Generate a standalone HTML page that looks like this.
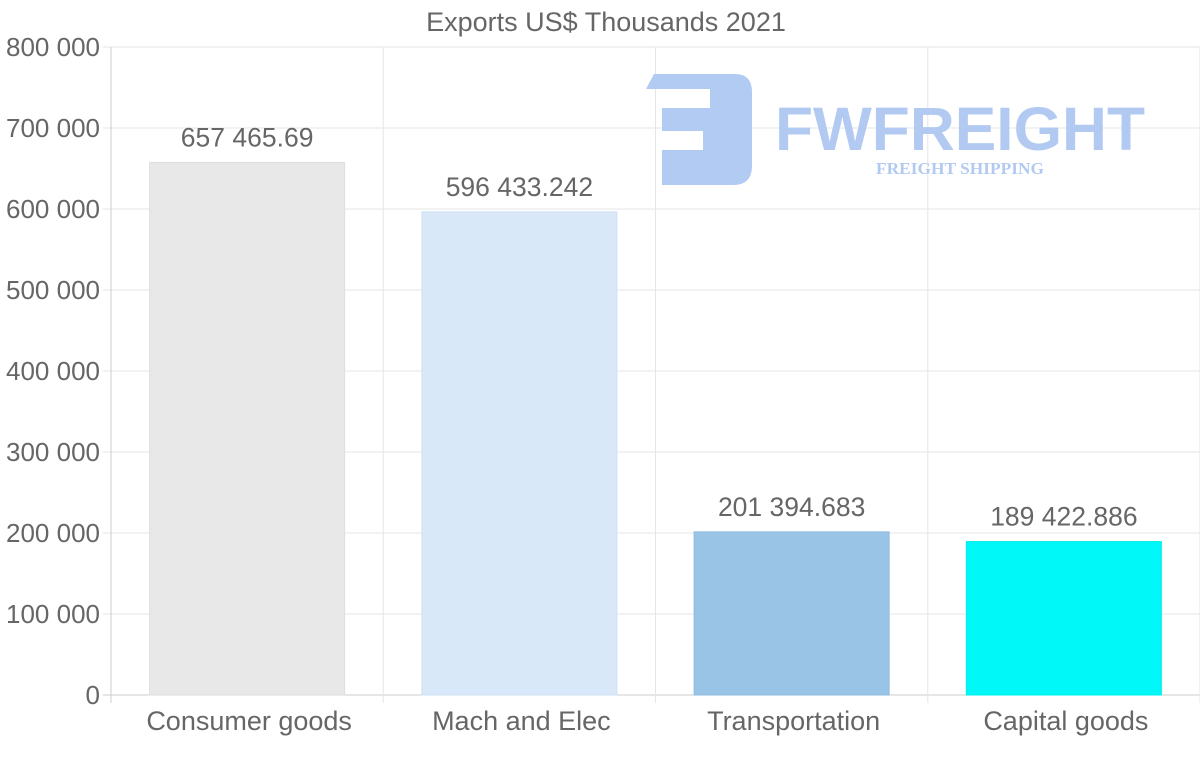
<!DOCTYPE html>
<html><head><meta charset="utf-8"><style>
html,body{margin:0;padding:0;background:#fff;}
svg{display:block;font-family:"Liberation Sans",sans-serif;}
</style></head><body>
<svg id="chart" width="1200" height="763">
<text x="606" y="31" text-anchor="middle" font-size="27" fill="#666">Exports US$ Thousands 2021</text>
<g id="grid"></g>
<g id="logo" opacity="0.95">
<path d="M646 89 L654 74 L735 74 Q752 74 752 92 L752 166 Q752 185 733 185 L662 185 L662 150 L703 150 L703 131 L662 131 L662 108 L710 108 L710 89 Z" fill="#aec8f2"/>
<text x="775" y="150" font-size="61" font-weight="bold" fill="#aec8f2" textLength="370" lengthAdjust="spacingAndGlyphs">FWFREIGHT</text>
<text x="960" y="174" text-anchor="middle" font-family="'Liberation Serif',serif" font-weight="bold" font-size="17" fill="#aec8f2" textLength="168" lengthAdjust="spacingAndGlyphs">FREIGHT SHIPPING</text>
</g>
<g id="bars"></g>
<g id="axes"></g>
</svg>
<script>
const categories = ["Consumer goods","Mach and Elec","Transportation","Capital goods"];
const values = [657465.69, 596433.242, 201394.683, 189422.886];
const valueLabels = ["657 465.69","596 433.242","201 394.683","189 422.886"];
const yTicks = [0,100000,200000,300000,400000,500000,600000,700000,800000];
const yTickLabels = ["0","100 000","200 000","300 000","400 000","500 000","600 000","700 000","800 000"];
const fills = ["#e8e8e8","#d8e8f8","#9ac4e6","#00f8f8"];
const strokes = ["#dedede","#cfe0f3","#8fbbe0","#00eeee"];

const NS="http://www.w3.org/2000/svg";
const L=111,R=1200,T=47,B=695,yMax=800000;
const y=v=>B-(v/yMax)*(B-T);
const bandW=(R-L)/categories.length;
const xC=i=>L+bandW*(i+0.5);
function mk(tag,attrs,parent,text){const e=document.createElementNS(NS,tag);for(const k in attrs)e.setAttribute(k,attrs[k]);if(text!==undefined)e.textContent=text;parent.appendChild(e);return e;}
const grid=document.getElementById('grid'),bars=document.getElementById('bars'),axes=document.getElementById('axes');
yTicks.forEach((t,i)=>{
  const ln=mk('line',{x1:L-8,x2:R,y1:y(t),y2:y(t),stroke:i===0?'#ccc':'#e6e6e6','stroke-width':1},grid);
  
  
  const tx=mk('text',{x:100,y:y(t)+9,'text-anchor':'end','font-size':26,fill:'#666'},axes,yTickLabels[i]);
  
  
});
for(let i=0;i<=categories.length;i++){
  const x=L+bandW*i;
  const ln=mk('line',{x1:x,x2:x,y1:T,y2:B+8,stroke:i===0?'#ccc':'#e6e6e6','stroke-width':1},grid);
  
  
}
const bw=195;
categories.forEach((c,i)=>{
  const r=mk('rect',{x:xC(i)-bw/2,y:y(values[i]),width:bw,height:B-y(values[i]),fill:fills[i],stroke:strokes[i],'stroke-width':1},bars);
  
  
  const vl=mk('text',{x:xC(i),y:y(values[i])-16,'text-anchor':'middle','font-size':26.5,fill:'#666'},bars,valueLabels[i]);
  
  
  const cl=mk('text',{x:xC(i)+2,y:730,'text-anchor':'middle','font-size':27,fill:'#666'},axes,c);
  
  
});
</script>
</body></html>
